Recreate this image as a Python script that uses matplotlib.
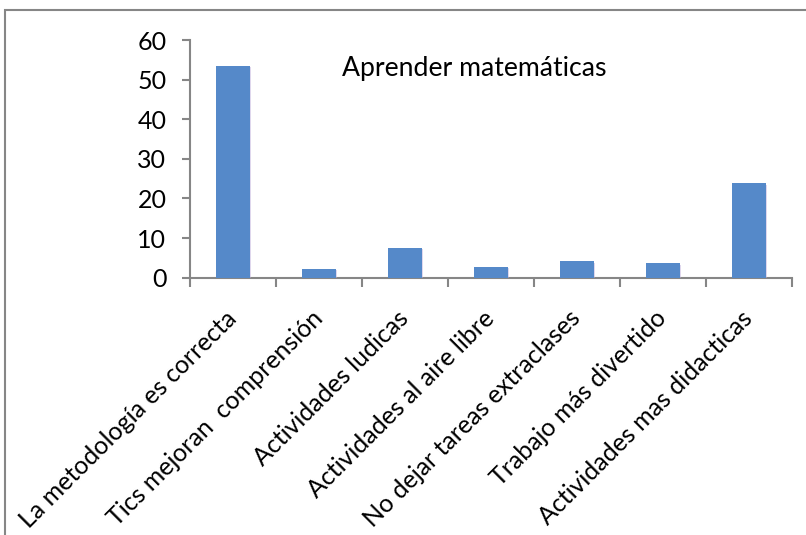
import matplotlib
matplotlib.use("Agg")
import matplotlib.pyplot as plt
from matplotlib.patches import Rectangle
from matplotlib import patheffects as pe
from matplotlib.ticker import FixedLocator, NullFormatter
from matplotlib.transforms import ScaledTranslation

categories = [
    "La metodología es correcta",
    "Tics mejoran  comprensión",
    "Actividades ludicas",
    "Actividades al aire libre",
    "No dejar tareas extraclases",
    "Trabajo más divertido",
    "Actividades mas didacticas",
]
values = [53.5, 2.1, 7.6, 2.8, 4.1, 3.6, 23.8]
title = "Aprender matemáticas"
y_ticks = [0, 10, 20, 30, 40, 50, 60]

FONT = "Lato"
GRAY = "#868686"
BAR = "#5589C9"

fig = plt.figure(figsize=(8.06, 5.35), dpi=100)
W, H = 806, 535

# chart frame (extends past the right/bottom of the canvas)
fig.patches.append(Rectangle((5 / W, -0.1), 1.2, 1 - 10 / H + 0.1,
                             transform=fig.transFigure, fill=False,
                             edgecolor=GRAY, linewidth=1.5))

ax = fig.add_axes([190 / W, 1 - 277.7 / H, (792 - 190) / W, (277.7 - 40) / H])
x = list(range(len(categories)))
bars = ax.bar(x, values, width=0.4, color=BAR, zorder=3)
for b in bars:
    b.set_path_effects([pe.SimplePatchShadow(offset=(0.8, -0.8),
                                             shadow_rgbFace="#b9a8d8", alpha=0.45),
                        pe.Normal()])

ax.set_xlim(-0.5, len(categories) - 0.5)
ax.set_ylim(0, 60)
ax.set_yticks(y_ticks)
ax.set_yticklabels([str(v) for v in y_ticks], fontfamily=FONT, fontsize=18)

ax.set_xticks(x)
labels = ax.set_xticklabels(categories, rotation=45, ha="right", va="center",
                            rotation_mode="anchor", fontfamily=FONT, fontsize=18)
shift = ScaledTranslation(6 / 100, 0, fig.dpi_scale_trans)
for lab in labels:
    lab.set_transform(lab.get_transform() + shift)
ax.xaxis.set_minor_locator(FixedLocator([i - 0.5 for i in range(len(categories) + 1)]))
ax.xaxis.set_minor_formatter(NullFormatter())
ax.tick_params(axis="x", which="major", length=0, pad=26.5)
ax.tick_params(axis="x", which="minor", length=6.5, width=1.5, color=GRAY, direction="out")
ax.tick_params(axis="y", which="major", length=6, width=1.5, color=GRAY, direction="out", pad=11)

for s in ("top", "right"):
    ax.spines[s].set_visible(False)
for s in ("left", "bottom"):
    ax.spines[s].set_color(GRAY)
    ax.spines[s].set_linewidth(1.5)

ax.text(0.472, 0.88, title, transform=ax.transAxes, ha="center", va="center",
        fontfamily=FONT, fontsize=19.2)

fig.savefig("out.png", dpi=100)
